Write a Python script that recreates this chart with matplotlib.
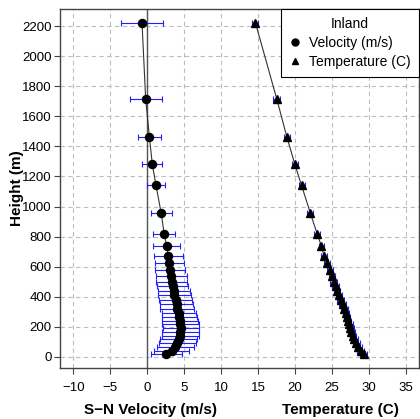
import matplotlib
matplotlib.use("Agg")
import matplotlib.pyplot as plt
from matplotlib.lines import Line2D

plt.rcParams['font.family'] = ['Liberation Sans', 'DejaVu Sans']

# heights of the profile levels (m)
heights = [15, 40, 65, 90, 115, 140, 165, 190, 215, 240, 265, 290, 320, 350, 380,
           410, 440, 470, 500, 535, 580, 625, 670, 735, 820, 955, 1140, 1280, 1465,
           1715, 2225]

# S-N velocity (m/s) and its spread
velocity = [2.6, 3.3, 3.8, 4.1, 4.3, 4.45, 4.5, 4.55, 4.5, 4.45, 4.35, 4.25, 4.1, 4.0,
            3.85, 3.7, 3.6, 3.45, 3.35, 3.25, 3.1, 3.0, 2.85, 2.65, 2.3, 1.9, 1.2, 0.7,
            0.3, -0.2, -0.7]
velocity_err = [2.1, 2.4, 2.5, 2.5, 2.5, 2.5, 2.5, 2.45, 2.45, 2.4, 2.4, 2.3, 2.3, 2.2,
                2.2, 2.2, 2.2, 2.1, 2.1, 2.1, 2.0, 2.0, 1.95, 1.8, 1.5, 1.4, 1.27, 1.36,
                1.57, 2.15, 2.9]

# temperature (C) and its spread
temperature = [29.3, 28.9, 28.6, 28.3, 28.05, 27.85, 27.65, 27.5, 27.35, 27.2, 27.05,
               26.9, 26.7, 26.45, 26.2, 25.95, 25.7, 25.5, 25.25, 25.0, 24.7, 24.3,
               23.95, 23.6, 23.0, 22.1, 20.9, 20.0, 18.9, 17.55, 14.65]
temperature_err = [0.45, 0.45, 0.45, 0.45, 0.45, 0.45, 0.45, 0.45, 0.45, 0.45, 0.45,
                   0.45, 0.45, 0.45, 0.45, 0.45, 0.45, 0.45, 0.45, 0.45, 0.4, 0.4, 0.4,
                   0.4, 0.4, 0.4, 0.4, 0.45, 0.4, 0.45, 0.4]

x_ticks = list(range(-10, 40, 5))
y_ticks = list(range(0, 2400, 200))

fig = plt.figure(figsize=(4.2, 4.19), dpi=100)
ax = fig.add_axes([60 / 420, 1 - 368 / 419, 359 / 420, 359 / 419])

ax.set_xlim(-11.8, 36.8)
ax.set_ylim(-75, 2315)
ax.set_xticks(x_ticks)
ax.set_yticks(y_ticks)
ax.grid(True, color='#bdbdbd', linestyle=(0, (4, 3)), linewidth=0.8)
ax.set_axisbelow(True)
ax.axvline(0, color='#555555', linewidth=1.0, zorder=1)

for spine in ax.spines.values():
    spine.set_color('#444444')
    spine.set_linewidth(1.0)
ax.tick_params(axis='both', labelsize=9.5, length=4, width=0.8, color='#444444')
ax.tick_params(axis='y', pad=2)
ax.tick_params(axis='x', pad=6)

# velocity profile
ax.errorbar(velocity, heights, xerr=velocity_err, fmt='none', ecolor='#2020ff',
            elinewidth=0.8, capsize=2, capthick=0.8, zorder=2)
ax.plot(velocity, heights, color='#333333', linewidth=0.8, zorder=3)
ax.plot(velocity, heights, 'o', color='black', markersize=5.8, zorder=4)

# temperature profile
ax.errorbar(temperature, heights, xerr=temperature_err, fmt='none', ecolor='#2020ff',
            elinewidth=0.8, capsize=2, capthick=0.8, zorder=2)
ax.plot(temperature, heights, color='#333333', linewidth=0.8, zorder=3)
ax.plot(temperature, heights, '^', color='black', markersize=5.8, zorder=4)

ax.set_ylabel('Height (m)', fontsize=11, fontweight='bold')
ax.yaxis.set_label_coords(-0.1, 0.5)
fig.text(150 / 420, 1 - 410 / 419, 'S\u2212N Velocity (m/s)', fontsize=11,
         fontweight='bold', ha='center', va='center')
fig.text(340 / 420, 1 - 410 / 419, 'Temperature (C)', fontsize=11,
         fontweight='bold', ha='center', va='center')

handles = [Line2D([], [], marker='o', color='black', linestyle='none', markersize=5),
           Line2D([], [], marker='^', color='black', linestyle='none', markersize=5)]
leg = ax.legend(handles, ['Velocity (m/s)', 'Temperature (C)'], title='Inland',
                loc='upper right', borderaxespad=0, fancybox=False, edgecolor='black',
                framealpha=1, fontsize=10, title_fontsize=10, handlelength=0.8,
                handletextpad=0.6, borderpad=0.6, labelspacing=0.35)
leg.get_frame().set_linewidth(0.8)

fig.savefig('out.png', dpi=100)
